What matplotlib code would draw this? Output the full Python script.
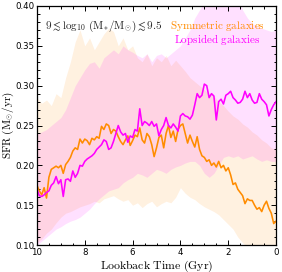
import numpy as np
import matplotlib
matplotlib.use("Agg")
import matplotlib.pyplot as plt
from matplotlib.ticker import MultipleLocator

plt.rcParams['mathtext.fontset'] = 'cm'
plt.rcParams['font.family'] = ['DejaVu Sans']

# Median SFR lines, lookback time from 10 Gyr to 0 Gyr (step 0.1 Gyr)
sym_sfr = [0.175, 0.168, 0.163, 0.172, 0.159, 0.185, 0.195, 0.197, 0.199, 0.197,
           0.200, 0.190, 0.201, 0.205, 0.210, 0.218, 0.222, 0.220, 0.233, 0.228,
           0.233, 0.231, 0.226, 0.234, 0.232, 0.236, 0.234, 0.249, 0.245, 0.252,
           0.250, 0.240, 0.245, 0.243, 0.236, 0.230, 0.226, 0.232, 0.237, 0.225,
           0.231, 0.238, 0.236, 0.247, 0.232, 0.228, 0.240, 0.236, 0.226, 0.211,
           0.222, 0.235, 0.238, 0.222, 0.240, 0.250, 0.235, 0.243, 0.230, 0.245,
           0.250, 0.252, 0.240, 0.228, 0.238, 0.230, 0.223, 0.236, 0.220, 0.212,
           0.210, 0.205, 0.207, 0.200, 0.203, 0.198, 0.205, 0.197, 0.200, 0.193,
           0.197, 0.188, 0.176, 0.178, 0.170, 0.166, 0.162, 0.152, 0.158, 0.156,
           0.156, 0.150, 0.145, 0.147, 0.142, 0.150, 0.155, 0.146, 0.140, 0.127,
           0.130]
lop_sfr = [0.170, 0.162, 0.161, 0.163, 0.166, 0.168, 0.175, 0.178, 0.186, 0.177,
           0.182, 0.161, 0.182, 0.183, 0.180, 0.193, 0.185, 0.190, 0.200, 0.199,
           0.205, 0.208, 0.210, 0.212, 0.215, 0.220, 0.223, 0.226, 0.232, 0.230,
           0.220, 0.222, 0.230, 0.240, 0.250, 0.242, 0.238, 0.240, 0.229, 0.237,
           0.235, 0.245, 0.243, 0.271, 0.250, 0.255, 0.253, 0.250, 0.255, 0.249,
           0.252, 0.237, 0.245, 0.250, 0.260, 0.250, 0.247, 0.252, 0.248, 0.243,
           0.262, 0.265, 0.262, 0.261, 0.258, 0.263, 0.276, 0.290, 0.285, 0.288,
           0.302, 0.300, 0.285, 0.290, 0.287, 0.257, 0.280, 0.283, 0.277, 0.288,
           0.290, 0.293, 0.285, 0.282, 0.278, 0.279, 0.283, 0.293, 0.285, 0.290,
           0.282, 0.278, 0.279, 0.290, 0.283, 0.280, 0.276, 0.262, 0.270, 0.276,
           0.280]

# Scatter bands, lookback time from 10 Gyr to 0 Gyr (step 0.2 Gyr)
sym_hi = [0.285, 0.278, 0.282, 0.275, 0.290, 0.285, 0.310, 0.330, 0.355, 0.370,
          0.350, 0.360, 0.345, 0.355, 0.365, 0.372, 0.368, 0.350, 0.360, 0.345,
          0.350, 0.335, 0.330, 0.340, 0.325, 0.335, 0.330, 0.338, 0.325, 0.332,
          0.325, 0.318, 0.310, 0.305, 0.300, 0.295, 0.290, 0.287, 0.280, 0.275,
          0.268, 0.262, 0.258, 0.252, 0.248, 0.242, 0.238, 0.232, 0.228, 0.222,
          0.220]
sym_lo = [0.103, 0.108, 0.115, 0.120, 0.128, 0.135, 0.140, 0.142, 0.145, 0.148,
          0.150, 0.152, 0.155, 0.153, 0.158, 0.160, 0.162, 0.158, 0.155, 0.157,
          0.150, 0.153, 0.147, 0.152, 0.155, 0.148, 0.152, 0.155, 0.153, 0.160,
          0.172, 0.165, 0.160, 0.157, 0.152, 0.148, 0.145, 0.142, 0.138, 0.132,
          0.126, 0.120, 0.110, 0.103, 0.097, 0.093, 0.090, 0.088, 0.086, 0.084,
          0.082]
lop_hi = [0.240, 0.242, 0.245, 0.250, 0.255, 0.260, 0.270, 0.285, 0.300, 0.310,
          0.320, 0.328, 0.330, 0.322, 0.335, 0.340, 0.345, 0.340, 0.350, 0.345,
          0.342, 0.338, 0.335, 0.340, 0.330, 0.338, 0.340, 0.335, 0.340, 0.345,
          0.350, 0.360, 0.370, 0.385, 0.395, 0.405, 0.410, 0.410, 0.405, 0.410,
          0.400, 0.405, 0.410, 0.395, 0.385, 0.378, 0.375, 0.372, 0.370, 0.368,
          0.370]
lop_lo = [0.100, 0.105, 0.110, 0.115, 0.120, 0.123, 0.127, 0.130, 0.132, 0.135,
          0.140, 0.145, 0.152, 0.158, 0.163, 0.168, 0.170, 0.172, 0.178, 0.182,
          0.185, 0.190, 0.188, 0.185, 0.190, 0.195, 0.193, 0.190, 0.195, 0.198,
          0.200, 0.203, 0.205, 0.205, 0.200, 0.190, 0.185, 0.190, 0.200, 0.210,
          0.212, 0.210, 0.212, 0.208, 0.210, 0.212, 0.208, 0.205, 0.207, 0.205,
          0.205]

x_ticks = [10, 8, 6, 4, 2, 0]
y_ticks = [0.10, 0.15, 0.20, 0.25, 0.30, 0.35, 0.40]

ORANGE = '#ff8c00'
MAGENTA = '#ff00ff'

t_line = np.linspace(10, 0, len(sym_sfr))
t_band = np.linspace(10, 0, len(sym_hi))

fig = plt.figure(figsize=(2.82, 2.72), dpi=100)
ax = fig.add_axes([0.131, 0.099, 0.848, 0.879])

ax.fill_between(t_band, sym_lo, sym_hi, color=ORANGE, alpha=0.12, lw=0)
ax.fill_between(t_band, lop_lo, lop_hi, color=MAGENTA, alpha=0.12, lw=0)
ax.plot(t_line, sym_sfr, color=ORANGE, lw=1.15)
ax.plot(t_line, lop_sfr, color=MAGENTA, lw=1.15)

ax.set_xlim(10, 0)
ax.set_ylim(0.10, 0.40)
ax.set_xticks(x_ticks)
ax.set_yticks(y_ticks)
ax.set_yticklabels([f'{v:.2f}' for v in y_ticks])
ax.xaxis.set_minor_locator(MultipleLocator(0.5))
ax.yaxis.set_minor_locator(MultipleLocator(0.01))
ax.tick_params(which='both', direction='in', top=True, right=True,
               labelsize=6.2, width=0.7, pad=2)
ax.tick_params(which='major', length=3.5)
ax.tick_params(which='minor', length=1.8)
for s in ax.spines.values():
    s.set_linewidth(0.9)

ax.set_xlabel(r'$\mathrm{Lookback\ Time\ (Gyr)}$', fontsize=8.5, labelpad=1)
ax.set_ylabel(r'$\mathrm{SFR\ (M_{\odot}/yr)}$', fontsize=8.0)
ax.yaxis.set_label_coords(-0.087, 0.5)

ax.text(0.035, 0.915, r'$9 \lesssim \log_{10}\,(\mathrm{M}_{*}/\mathrm{M}_{\odot}) \lesssim 9.5$',
        transform=ax.transAxes, fontsize=8, ha='left', va='center', color='#222222')
ax.text(0.755, 0.915, r'$\mathrm{Symmetric\ galaxies}$', transform=ax.transAxes,
        fontsize=8, ha='center', va='center', color=ORANGE)
ax.text(0.755, 0.86, r'$\mathrm{Lopsided\ galaxies}$', transform=ax.transAxes,
        fontsize=8, ha='center', va='center', color=MAGENTA)

fig.savefig('out.png', dpi=100)
